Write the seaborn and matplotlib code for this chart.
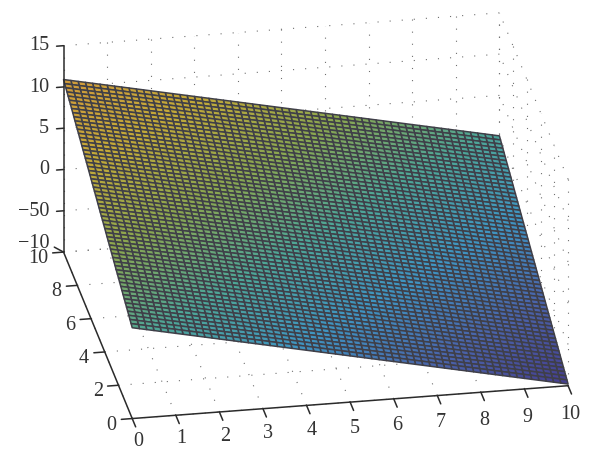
import numpy as np
import matplotlib
matplotlib.use('Agg')
import matplotlib.pyplot as plt
import seaborn as sns

# Tick values and the labels printed on the figure
x_ticks = [0, 1, 2, 3, 4, 5, 6, 7, 8, 9, 10]
y_ticks = [0, 2, 4, 6, 8, 10]
z_ticks = [-10, -5, 0, 5, 10, 15]
z_labels = ['\u221210', '\u221250', '0', '5', '10', '15']

# Plane: z = z_start + z_per_x * x + z_per_y * y
z_start = 1.0
z_per_x = -1.08
z_per_y = 0.99
cells = 60

sns.set_theme(style='white')
plt.rcParams['font.family'] = ['Liberation Serif', 'DejaVu Serif']

line_col = '#2b2b2b'
text_col = '#333333'
grid_style = dict(color='#6f6f6f', lw=0.8, ls=(0, (1, 9.9)), zorder=1, clip_on=False)
axis_style = dict(color=line_col, lw=1.1, zorder=3, clip_on=False)

fig = plt.figure(figsize=(6, 4.67), dpi=100)
ax = fig.add_axes([9.5 / 600, 11.5 / 467, 1, 1], projection='3d', computed_zorder=False)
ax.set_proj_type('ortho')
ax.view_init(elev=25.3, azim=-100)
ax.set_xlim(0, 10, view_margin=0)
ax.set_ylim(0, 10, view_margin=0)
ax.set_zlim(-10, 15, view_margin=0)
ax.set_box_aspect((442, 395, 228), zoom=1.322)
ax.set_xticks([])
ax.set_yticks([])
ax.set_zticks([])
ax.set_axis_off()

# Dotted grid on the floor and the two far walls
for v in x_ticks:
    ax.plot([v, v], [0, 10], [-10, -10], **grid_style)
    ax.plot([v, v], [10, 10], [-10, 15], **grid_style)
for v in y_ticks:
    ax.plot([0, 10], [v, v], [-10, -10], **grid_style)
    ax.plot([10, 10], [v, v], [-10, 15], **grid_style)
for v in z_ticks:
    ax.plot([0, 10], [10, 10], [v, v], **grid_style)
    ax.plot([10, 10], [0, 10], [v, v], **grid_style)

# Surface
xs = np.linspace(0, 10, cells + 1)
ys = np.linspace(0, 10, cells + 1)
X, Y = np.meshgrid(xs, ys)
Z = z_start + z_per_x * X + z_per_y * Y

# muted jet-like colours, the print version of the figure is quite grey
cmap = sns.blend_palette(['#453c8c', '#4a62a8', '#3f94c0', '#4ea596', '#8aa650',
                          '#c2a838', '#d09a3a'], as_cmap=True)
Zc = (Z[:-1, :-1] + Z[1:, 1:]) / 2
face = cmap((Zc + 10) / 21)
surf = ax.plot_surface(X, Y, Z, facecolors=face, rstride=1, cstride=1, shade=False,
                       edgecolor='#3f3f48', linewidth=1.1, antialiased=True, zorder=2)
surf.set_clip_on(False)

# Axis lines and ticks
ax.plot([0, 10], [0, 0], [-10, -10], **axis_style)
ax.plot([0, 0], [0, 10], [-10, -10], **axis_style)
ax.plot([0, 0], [10, 10], [-10, 15], **axis_style)
ax.plot([0, -0.16], [10, 10.33], [-10, -10], **axis_style)

for v in x_ticks:
    ax.plot([v, v], [0, -0.5], [-10, -10], **axis_style)
    ax.text(v - 0.05 - 0.01 * v, -1.25, -10.25 - 0.07 * v, str(v), ha='center', va='center',
            fontsize=14.5, color=text_col)
for v in y_ticks:
    ax.plot([0, -0.25], [v, v], [-10, -10], **axis_style)
    ax.text(-0.36, v, -10.65, str(v), ha='right', va='center',
            fontsize=14.5, color=text_col)
for v, lab in zip(z_ticks, z_labels):
    if v > -10:
        ax.plot([0, -0.16], [10, 10], [v, v], **axis_style)
    ax.text(-0.33, 10, v + (1.2 if v == -10 else 0.1), lab, ha='right', va='center',
            fontsize=14.5, color=text_col)

fig.savefig('out.png', dpi=100)
